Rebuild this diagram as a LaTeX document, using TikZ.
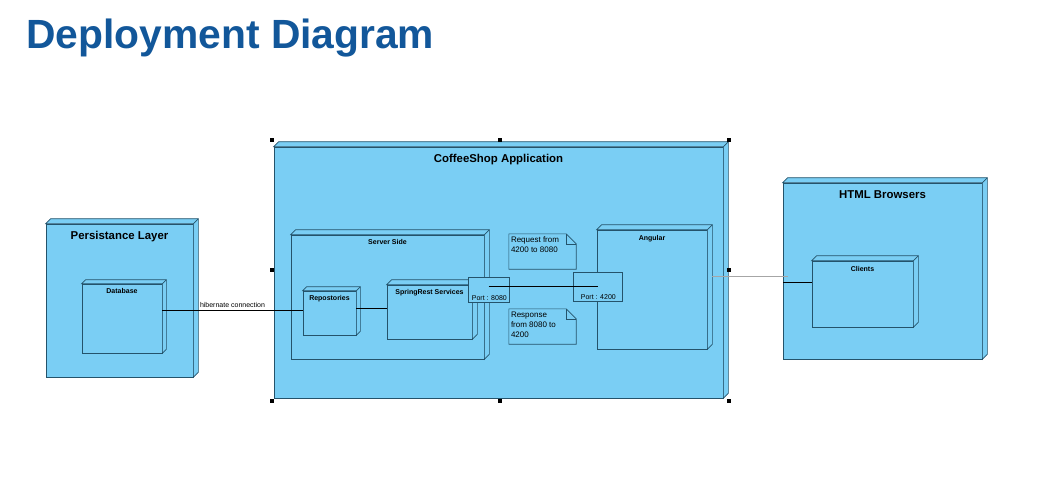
\documentclass[tikz,border=0pt]{standalone}
\usepackage{fontspec}
\setmainfont{Liberation Sans}
\usetikzlibrary{positioning}

\definecolor{boxfill}{HTML}{7ACEF4}
\definecolor{boxedge}{HTML}{24536B}
\definecolor{titleblue}{HTML}{12579A}

\tikzset{
  dnode/.style={rectangle, draw=boxedge, fill=boxfill, line width=0.7pt, inner sep=0pt},
  bigtitle/.style={font=\bfseries\fontsize{11.4}{13}\selectfont, inner sep=0pt},
  smalltitle/.style={font=\bfseries\fontsize{7}{8.5}\selectfont, inner sep=0pt},
  smalltext/.style={font=\fontsize{7}{8.5}\selectfont, inner sep=0pt},
  notetext/.style={font=\fontsize{8}{10}\selectfont, inner sep=0pt, align=left},
  link/.style={draw=black, line width=0.7pt},
  handle/.style={fill=black, minimum size=4pt, inner sep=0pt}
}

% top and side faces of a 3d node
\newcommand{\nodedepth}[2][5pt]{%
  \filldraw[draw=boxedge, fill=boxfill, line width=0.7pt]
    (#2.north west) -- ++(#1,#1) -- ([shift={(#1,#1)}]#2.north east)
    -- ([shift={(#1,#1)}]#2.south east) -- (#2.south east) -- (#2.north east) -- cycle;
  \draw[boxedge, line width=0.7pt] (#2.north east) -- ++(#1,#1);
}

% note with a folded corner
\newcommand{\notefold}[2][10pt]{%
  \draw[boxedge, line width=0.6pt] (#2.north west) -- ([xshift=-#1]#2.north east)
    -- ([yshift=-#1]#2.north east) -- (#2.south east) -- (#2.south west) -- cycle;
  \draw[boxedge, line width=0.6pt] ([xshift=-#1]#2.north east)
    -- ([xshift=-#1,yshift=-#1]#2.north east) -- ([yshift=-#1]#2.north east);
}

\begin{document}
\begin{tikzpicture}[x=1pt, y=-1pt]
  \useasboundingbox (0,0) rectangle (1060,485);

  \node[font=\bfseries\fontsize{40.8}{48}\selectfont, text=titleblue, anchor=base west, inner sep=0pt]
    (title) at (26,48) {Deployment Diagram};

  % outer nodes
  \node[dnode, minimum width=449, minimum height=251] (coffee) at (498.5,272.5) {};
  \nodedepth{coffee}
  \node[bigtitle, below=7pt of coffee.north] (coffeetitle) {CoffeeShop Application};

  \node[dnode, minimum width=147, minimum height=153] (persist) at (119.5,300.5) {};
  \nodedepth{persist}
  \node[bigtitle, below=7pt of persist.north] (persisttitle) {Persistance Layer};

  \node[dnode, minimum width=199, minimum height=176] (html) at (882.5,271) {};
  \nodedepth{html}
  \node[bigtitle, below=8pt of html.north] (htmltitle) {HTML Browsers};

  % inner nodes
  \node[dnode, minimum width=80, minimum height=69] (database) at (122,318.5) {};
  \nodedepth[4pt]{database}
  \node[smalltitle, below=5pt of database.north] (databasetitle) {Database};

  \node[dnode, minimum width=193, minimum height=124] (server) at (387.5,297) {};
  \nodedepth{server}
  \node[smalltitle, below=5pt of server.north] (servertitle) {Server Side};

  \node[dnode, minimum width=53, minimum height=44] (repo) at (329.5,313) {};
  \nodedepth[4pt]{repo}
  \node[smalltitle, below=5pt of repo.north] (repotitle) {Repostories};

  \node[dnode, minimum width=85, minimum height=54] (spring) at (429.5,312) {};
  \nodedepth{spring}
  \node[smalltitle, below=5pt of spring.north] (springtitle) {SpringRest Services};

  \node[dnode, minimum width=110, minimum height=119] (angular) at (652,289.5) {};
  \nodedepth{angular}
  \node[smalltitle, below=6pt of angular.north] (angulartitle) {Angular};

  \node[dnode, minimum width=101, minimum height=66] (clients) at (862.5,294) {};
  \nodedepth{clients}
  \node[smalltitle, below=6pt of clients.north] (clientstitle) {Clients};

  % notes
  \node[minimum width=67, minimum height=35, inner sep=0pt] (reqnote) at (542.5,251.5) {};
  \notefold{reqnote}
  \node[notetext, anchor=north west] (reqtext) at ([shift={(2pt,-3pt)}]reqnote.north west)
    {Request from\\4200 to 8080};

  \node[minimum width=67, minimum height=35, inner sep=0pt] (respnote) at (542.5,326.5) {};
  \notefold{respnote}
  \node[notetext, anchor=north west] (resptext) at ([shift={(2pt,-3pt)}]respnote.north west)
    {Response\\from 8080 to\\4200};

  % ports
  \node[dnode, line width=0.6pt, minimum width=41, minimum height=25] (p8080) at (488.5,289.5) {};
  \node[smalltext, anchor=base west] (p8080text) at ([shift={(4pt,2pt)}]p8080.south west) {Port : 8080};
  \node[dnode, line width=0.6pt, minimum width=49, minimum height=29] (p4200) at (597.5,286.5) {};
  \node[smalltext, anchor=base west] (p4200text) at ([shift={(8pt,2pt)}]p4200.south west) {Port : 4200};

  % connections
  \draw[link] ([yshift=8.5pt]database.east) -- ([yshift=8.5pt]database.east -| repo.west)
    node[smalltext, midway, above=2pt] (hiblabel) {hibernate connection};
  \draw[link] ([yshift=5pt]repo.east) -- ([yshift=5pt]repo.east -| spring.west);
  \draw[link] (p8080.center |- p4200.center) -- (p4200.center);
  \draw[link, draw=gray!70] ([shift={(5pt,13.5pt)}]angular.east) -- ([shift={(5pt,13.5pt)}]angular.east -| html.west);
  \draw[link] ([yshift=12pt]clients.west) -- ([yshift=12pt]clients.west -| html.west);

  % selection handles
  \foreach \hx/\hy in {272/140, 500/140, 729/140, 272/270, 729/270, 272/401, 500/401, 729/401}
    \node[handle] (handle\hx\hy) at (\hx,\hy) {};
\end{tikzpicture}
\end{document}
